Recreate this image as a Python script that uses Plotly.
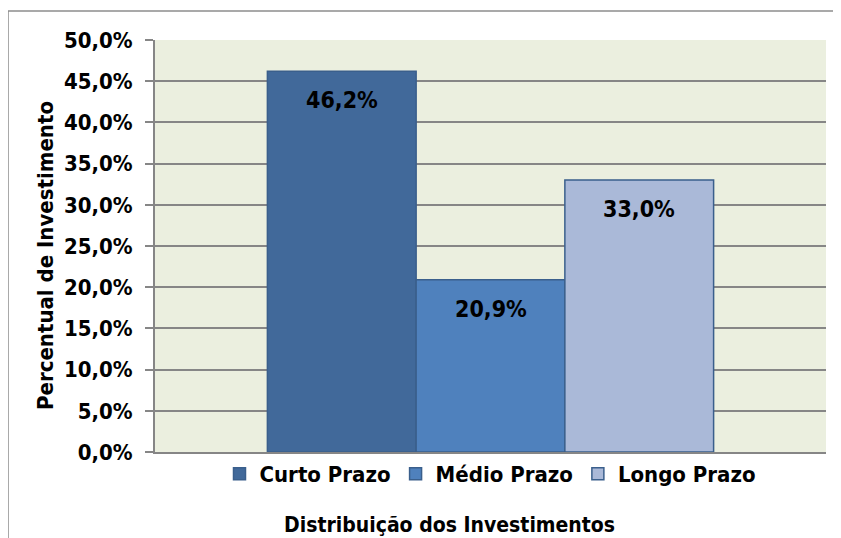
import plotly.graph_objects as go

categories = ["Curto Prazo", "Médio Prazo", "Longo Prazo"]
values = [0.462, 0.209, 0.330]
colors = ["#41699A", "#4F81BD", "#AAB9D8"]
y_ticks = [0, 0.05, 0.10, 0.15, 0.20, 0.25, 0.30, 0.35, 0.40, 0.45, 0.50]
x_title = "Distribuição dos Investimentos"
y_title = "Percentual de Investimento"

FONT = "DejaVu Sans Condensed, Liberation Sans Narrow, sans-serif"
FS = 22
OFF = 8  # page body margin
W, H = 841 - OFF, 538 - OFF
L, R, T, B = 155 - OFF, 15, 40 - OFF, 538 - 452
pw, ph = W - L - R, H - T - B
BARGAP = 0.335


def px2x(px):
    return (px - OFF - L) / pw


def py2y(py):
    return (H - B - (py - OFF)) / ph


fig = go.Figure()
for i, (cat, val, col) in enumerate(zip(categories, values, colors)):
    fig.add_trace(go.Bar(
        x=[""], y=[val], name=cat,
        marker=dict(color=col, line=dict(color="#3A5F8C", width=1.5)),
        hoverinfo="skip",
    ))
    fig.add_annotation(
        x=0, y=val, xref="x", yref="y",
        text=f"{val*100:.1f}".replace(".", ",") + "%",
        showarrow=False, yshift=-29,
        xshift=(i - 1) * pw * (1 - BARGAP) / 3,
        font=dict(family=FONT, size=23, color="#000000", weight="bold"),
    )

fig.add_annotation(x=px2x(449), y=py2y(525), xref="paper", yref="paper",
                   text=x_title, showarrow=False, xanchor="center", yanchor="middle",
                   font=dict(family=FONT, size=21, color="#000000", weight="bold"))
fig.add_annotation(x=px2x(45), y=py2y(256), xref="paper", yref="paper",
                   text=y_title, showarrow=False, textangle=-90,
                   xanchor="center", yanchor="middle",
                   font=dict(family=FONT, size=FS, color="#000000", weight="bold"))

fig.add_shape(type="line", xref="paper", yref="paper",
              x0=px2x(8), x1=px2x(860), y0=py2y(11), y1=py2y(11),
              line=dict(color="#8C8C8C", width=1.5))
fig.add_shape(type="line", xref="paper", yref="paper",
              x0=px2x(8), x1=px2x(8), y0=py2y(11), y1=py2y(560),
              line=dict(color="#8C8C8C", width=1.5))

fig.update_layout(
    width=W, height=H,
    margin=dict(l=L, r=R, t=T, b=B, autoexpand=False),
    paper_bgcolor="#FFFFFF",
    plot_bgcolor="#EBEFDF",
    separators=",.",
    barmode="group", bargap=BARGAP, bargroupgap=0,
    font=dict(family=FONT, size=FS, color="#000000"),
    showlegend=True,
    legend=dict(orientation="h", x=0.5, xanchor="center", y=py2y(474), yanchor="middle",
                font=dict(family=FONT, size=FS, color="#000000", weight="bold"),
                itemwidth=30, traceorder="normal", bgcolor="rgba(0,0,0,0)"),
    xaxis=dict(showticklabels=False, ticks="", showline=True, linecolor="#868686", linewidth=2,
               showgrid=False, fixedrange=True),
    yaxis=dict(range=[0, 0.5], tickvals=y_ticks, tickformat=".1%",
               showgrid=True, gridcolor="#868686", gridwidth=2,
               showline=True, linecolor="#868686", linewidth=2,
               ticks="outside", ticklen=8, tickcolor="#868686", tickwidth=2,
               ticklabelstandoff=8,
               tickfont=dict(family=FONT, size=FS, color="#000000", weight="bold"),
               zeroline=False, fixedrange=True),
)

fig.write_html("out.html")
